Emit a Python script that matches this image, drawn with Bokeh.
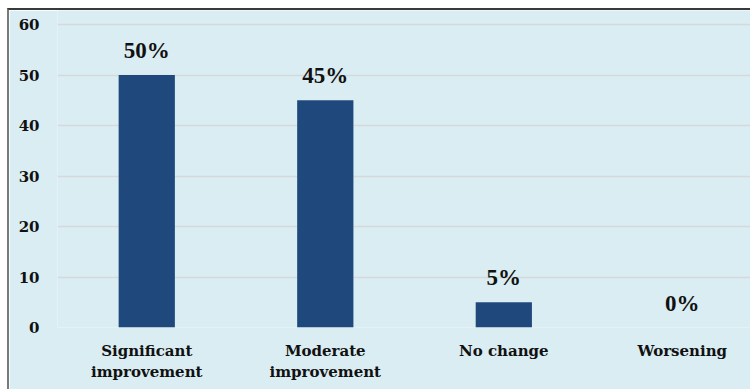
from bokeh.plotting import figure
from bokeh.models import Range1d, FixedTicker, ColumnDataSource, LabelSet
from bokeh.embed import file_html
from bokeh.resources import INLINE

categories = ["Significant\nimprovement", "Moderate\nimprovement", "No change", "Worsening"]
values = [50, 45, 5, 0]
value_labels = ["50%", "45%", "5%", "0%"]
y_ticks = [0, 10, 20, 30, 40, 50, 60]

xs = [i + 0.5 for i in range(len(categories))]
src = ColumnDataSource(dict(x=xs, top=values, lab=value_labels))

FONT = "'DejaVu Serif', serif"
BG = "#DAEDF3"

p = figure(width=741, height=379, x_range=Range1d(0, 3.893), y_range=Range1d(0, 62.8),
           output_backend="svg", toolbar_location=None,
           min_border_left=48, min_border_right=0, min_border_top=0, min_border_bottom=64)
p.margin = (8, 0, 0, 7)
p.styles = {"border-top": "2px solid #3a3a3a", "border-left": "2px solid #7a7a7a",
            "box-sizing": "content-box"}
p.background_fill_color = BG
p.border_fill_color = BG
p.outline_line_color = None

p.vbar(x="x", top="top", width=0.315, bottom=0, source=src,
       fill_color="#1F497D", line_color=None)

p.add_layout(LabelSet(x="x", y="top", text="lab", source=src, text_align="center",
                      text_baseline="alphabetic", y_offset=17, text_font=FONT,
                      text_font_style="bold", text_font_size="23px", text_color="#111111"))

p.xgrid.grid_line_color = None
p.ygrid.grid_line_color = "#D6D9DB"
p.ygrid.grid_line_width = 1.5
p.ygrid.ticker = FixedTicker(ticks=y_ticks)

p.yaxis.ticker = FixedTicker(ticks=y_ticks)
p.yaxis.axis_line_color = None
p.yaxis.major_tick_line_color = None
p.yaxis.minor_tick_line_color = None
p.yaxis.major_label_standoff = 12
p.yaxis.major_label_text_font = FONT
p.yaxis.major_label_text_font_style = "bold"
p.yaxis.major_label_text_font_size = "15px"
p.yaxis.major_label_text_color = "#111111"

p.xaxis.ticker = FixedTicker(ticks=xs)
p.xaxis.major_label_overrides = {x: c for x, c in zip(xs, categories)}
p.xaxis.axis_line_color = None
p.xaxis.major_tick_line_color = None
p.xaxis.minor_tick_line_color = None
p.xaxis.major_label_standoff = 8
p.xaxis.major_label_text_font = FONT
p.xaxis.major_label_text_font_style = "bold"
p.xaxis.major_label_text_font_size = "15px"
p.xaxis.major_label_text_color = "#111111"

open("out.html", "w").write(file_html(p, INLINE))
